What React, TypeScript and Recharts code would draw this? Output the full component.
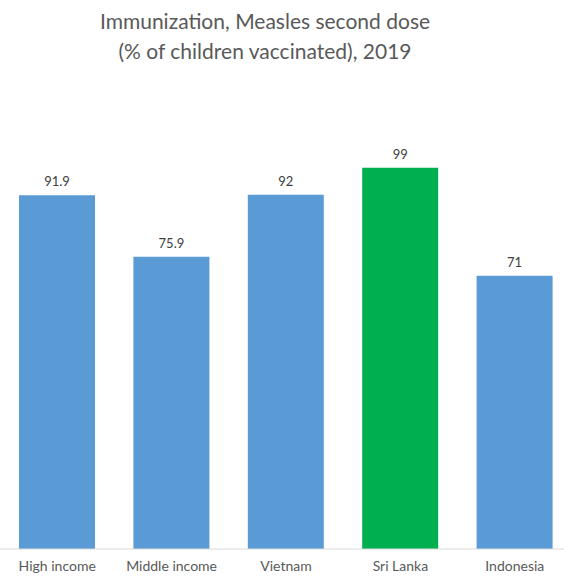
import { BarChart, Bar, XAxis, YAxis, Cell, LabelList } from "recharts";

const categories = ["High income", "Middle income", "Vietnam", "Sri Lanka", "Indonesia"];
const values = [91.9, 75.9, 92, 99, 71];
const highlight = "Sri Lanka";

const data = categories.map((name, i) => ({ name, value: values[i] }));

const FONT = "Lato, 'Open Sans', sans-serif";

const App = () => {
  return (
    <div
      style={{
        position: "absolute",
        left: 0,
        top: 0,
        width: 564,
        height: 577,
        overflow: "hidden",
        background: "#fff",
        fontFamily: FONT,
      }}
    >
      {/* TITLE */}
      <div
        style={{
          position: "absolute",
          left: 0,
          top: 6,
          width: 530,
          textAlign: "center",
          color: "#595959",
          fontSize: 21,
          lineHeight: "30px",
        }}
      >
        Immunization, Measles second dose
        <br />
        (% of children vaccinated), 2019
      </div>

      {/* CHART */}
      <BarChart
        width={572}
        height={577}
        data={data}
        barSize={76}
        margin={{ top: 164, right: 0, bottom: 0, left: 0 }}
      >
        <XAxis
          dataKey="name"
          height={28}
          axisLine={{ stroke: "#d9d9d9" }}
          tickLine={false}
          tickSize={0}
          tickMargin={12}
          tick={{ fill: "#595959", fontSize: 14, fontFamily: FONT }}
          interval={0}
        />
        <YAxis hide domain={[0, 100]} />
        <Bar dataKey="value" isAnimationActive={false}>
          {data.map((d) => (
            <Cell key={d.name} fill={d.name === highlight ? "#00b050" : "#5b9bd5"} />
          ))}
          <LabelList
            dataKey="value"
            position="top"
            offset={9}
            fill="#404040"
            fontSize={13}
            fontFamily={FONT}
          />
        </Bar>
      </BarChart>
    </div>
  );
};

export default App;
